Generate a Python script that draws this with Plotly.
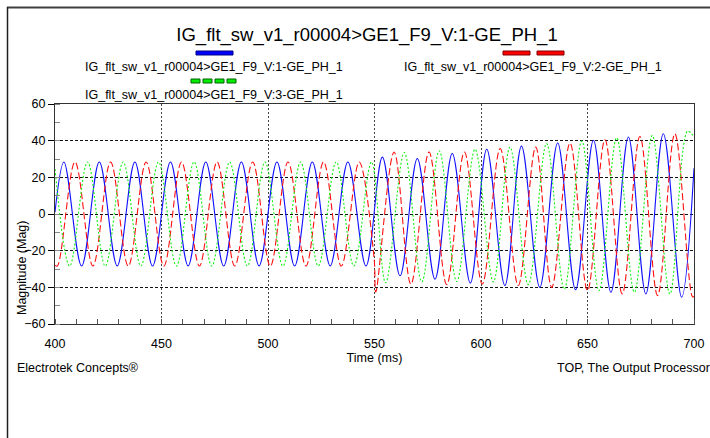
import plotly.graph_objects as go

# Phase voltages around the fault (time in ms, magnitude); samples are the
# waveform peaks/troughs plus the window edges.
t_ph1 = [400.0, 404.2, 412.5, 420.8, 429.2, 437.5, 445.8, 454.2, 462.5, 470.8,
         479.2, 487.5, 495.8, 504.2, 512.5, 520.8, 529.2, 537.5, 546.0,
         553.7, 562.0, 570.1, 578.4, 586.5, 595.0, 602.7, 611.2, 619.0, 627.6,
         636.0, 644.4, 652.8, 661.0, 669.2, 677.4, 685.6, 694.2, 700.0]
v_ph1 = [1.0, 28.4, -28.4, 28.4, -28.3, 28.4, -28.4, 28.4, -28.3, 28.4,
         -28.4, 28.4, -28.3, 28.4, -28.4, 28.4, -28.3, 28.4, -28.4,
         31.0, -33.7, 30.3, -35.5, 33.0, -37.7, 35.3, -39.0, 37.0, -40.0,
         38.7, -41.3, 40.2, -42.7, 42.0, -43.6, 43.8, -45.4, 25.0]

t_ph2 = [400.0, 401.1, 409.4, 417.8, 426.1, 434.4, 442.8, 451.1, 459.4, 467.8,
         476.1, 484.4, 492.8, 501.1, 509.4, 517.8, 526.1, 534.4, 542.8, 549.8,
         550.6, 559.2, 567.1, 575.6, 583.9, 592.2, 600.6, 609.0, 617.5, 625.7,
         633.2, 641.8, 650.0, 658.2, 666.3, 674.6, 682.9, 691.0, 699.3, 700.0]
v_ph2 = [-28.0, -28.4, 28.4, -28.4, 28.4, -28.4, 28.4, -28.4, 28.4, -28.4,
         28.4, -28.4, 28.4, -28.4, 28.4, -28.4, 28.4, -28.4, 28.4, -24.0,
         -42.6, 33.8, -38.2, 33.8, -38.6, 33.8, -38.2, 35.7, -39.0, 36.5,
         -40.0, 38.7, -41.8, 40.5, -43.6, 42.3, -44.5, 43.8, -45.2, -45.0]

t_ph3 = [400.0, 406.9, 415.3, 423.6, 432.0, 440.3, 448.6, 457.0, 465.3, 473.6,
         482.0, 490.3, 498.6, 507.0, 515.3, 523.6, 532.0, 540.3, 548.6,
         555.2, 564.0, 572.2, 580.4, 588.6, 597.2, 605.8, 613.6, 622.2, 630.8,
         639.1, 647.3, 655.4, 663.7, 672.0, 680.4, 688.7, 697.0, 700.0]
v_ph3 = [24.5, -28.4, 28.4, -28.4, 28.4, -28.4, 28.4, -28.4, 28.4, -28.4,
         28.4, -28.4, 28.4, -28.4, 28.4, -28.4, 28.4, -28.4, 28.4,
         -37.5, 33.5, -37.0, 34.4, -36.8, 35.3, -37.0, 36.5, -38.5, 38.4,
         -41.0, 39.8, -41.8, 41.6, -42.7, 42.9, -43.6, 45.2, 42.0]

series_names = ["IG_flt_sw_v1_r00004>GE1_F9_V:1-GE_PH_1",
                "IG_flt_sw_v1_r00004>GE1_F9_V:2-GE_PH_1",
                "IG_flt_sw_v1_r00004>GE1_F9_V:3-GE_PH_1"]
chart_title = "IG_flt_sw_v1_r00004>GE1_F9_V:1-GE_PH_1"
x_ticks = [400, 450, 500, 550, 600, 650, 700]
y_ticks = [-60, -40, -20, 0, 20, 40, 60]

FONT = "Liberation Sans, Arial, sans-serif"
W, H = 710, 438
L, R, T, B = 55, 16, 104, 114
PW, PH = W - L - R, H - T - B


def px(x):
    return (x - L) / PW


def py(y):
    return (H - B - y) / PH


fig = go.Figure()
fig.add_trace(go.Scatter(x=t_ph1, y=v_ph1, mode="lines", name=series_names[0],
                         line=dict(color="#1010ff", width=1.1, shape="spline",
                                   smoothing=1)))
fig.add_trace(go.Scatter(x=t_ph2, y=v_ph2, mode="lines", name=series_names[1],
                         line=dict(color="#ff1010", width=1.1, dash="7px,3px",
                                   shape="spline", smoothing=1)))
fig.add_trace(go.Scatter(x=t_ph3, y=v_ph3, mode="lines", name=series_names[2],
                         line=dict(color="#10f010", width=1.1, dash="2px,2px",
                                   shape="spline", smoothing=1)))

shapes = []
# outer frame edges (top and left)
shapes.append(dict(type="line", xref="paper", yref="paper",
                   x0=px(7), x1=px(712), y0=py(7.5), y1=py(7.5),
                   line=dict(color="#404040", width=2)))
shapes.append(dict(type="line", xref="paper", yref="paper",
                   x0=px(7.5), x1=px(7.5), y0=py(7), y1=py(440),
                   line=dict(color="#202020", width=1.5)))


def key_bar(x0, x1, y0, y1, fill, edge):
    shapes.append(dict(type="rect", xref="paper", yref="paper",
                       x0=px(x0), x1=px(x1), y0=py(y1), y1=py(y0),
                       fillcolor=fill, line=dict(color=edge, width=1)))


# legend keys
key_bar(196, 233, 51, 55, "#0000ff", "#000080")
key_bar(503, 530, 51, 55, "#ff0000", "#800000")
key_bar(537, 564, 51, 55, "#ff0000", "#800000")
for gx in (191, 203, 215, 227):
    key_bar(gx, gx + 9, 79, 83, "#00ee00", "#006000")

annotations = []


def text(x, y, s, anchor="left", size=12.5, angle=0):
    annotations.append(dict(xref="paper", yref="paper", x=px(x), y=py(y),
                            text=s, showarrow=False, xanchor=anchor,
                            yanchor="middle", textangle=angle,
                            font=dict(family=FONT, size=size, color="#000")))


text(83, 67, series_names[0])
text(402, 67, series_names[1])
text(83, 95, series_names[2])
text(15, 368, "Electrotek Concepts®")
text(712, 368, "TOP, The Output Processor", anchor="right")
text(22, 268, "Magnitude (Mag)", anchor="center", angle=-90, size=12.5)

axis_common = dict(showgrid=True, gridwidth=1, zeroline=False, showline=True,
                   mirror=True, linecolor="#333333", linewidth=1,
                   automargin=False)

fig.update_layout(
    width=W, height=H,
    margin=dict(l=L, r=R, t=T, b=B, pad=0),
    paper_bgcolor="white", plot_bgcolor="white",
    showlegend=False,
    font=dict(family=FONT, size=12.5, color="#000"),
    title=dict(text=chart_title, x=367 / W, xanchor="center",
               y=1 - 35 / H, yanchor="middle",
               font=dict(family=FONT, size=18.5, color="#000")),
    xaxis=dict(range=[400, 700], tickvals=x_ticks, ticks="", **axis_common,
               gridcolor="#444444", griddash="2px,2px",
               minor=dict(dtick=10, tick0=400, ticks="inside", ticklen=5,
                          tickcolor="#555555", showgrid=False),
               ticklabelstandoff=8,
               title=dict(text="Time (ms)", standoff=0,
                          font=dict(family=FONT, size=12.5))),
    yaxis=dict(range=[-60, 60], tickvals=y_ticks, ticks="outside", ticklen=6,
               tickcolor="#000", **axis_common,
               gridcolor="#111111", griddash="3px,2px",
               minor=dict(dtick=10, tick0=0, ticks="inside", ticklen=5,
                          tickcolor="#888888", showgrid=False)),
    shapes=shapes,
    annotations=annotations,
)

fig.write_html("out.html")
